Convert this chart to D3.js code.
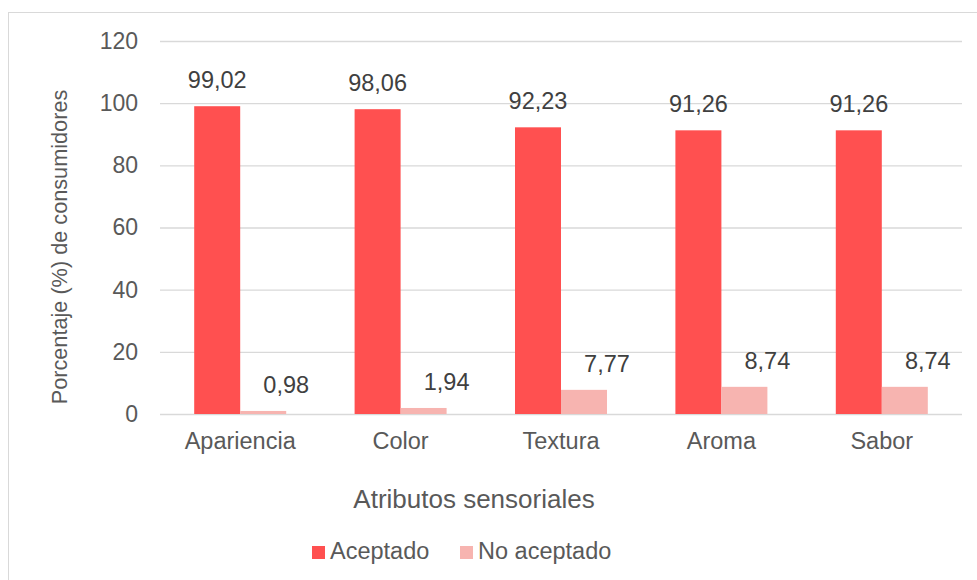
<!DOCTYPE html>
<html>
<head>
<meta charset="utf-8">
<script src="https://cdn.jsdelivr.net/npm/d3@7"></script>
<style>
  html, body { margin: 0; padding: 0; background: #fff; }
  svg { display: block; font-family: "Liberation Sans", Arial, sans-serif; }
</style>
</head>
<body>
<svg id="chart" width="977" height="580"></svg>
<script>
// Sensory attribute acceptance (%)
const categories = ["Apariencia", "Color", "Textura", "Aroma", "Sabor"];
const seriesNames = ["Aceptado", "No aceptado"];
const aceptado = [99.02, 98.06, 92.23, 91.26, 91.26];
const noAceptado = [0.98, 1.94, 7.77, 8.74, 8.74];
const yTicks = [0, 20, 40, 60, 80, 100, 120];
const colors = ["#FF5050", "#F7B4B0"];

const rows = categories.map((c, i) => ({ cat: c, values: [aceptado[i], noAceptado[i]] }));

const svg = d3.select("#chart");
const plot = { left: 160, right: 962, top: 41, bottom: 414 };

// chart frame
svg.append("rect")
  .attr("x", 8.5).attr("y", 12.5)
  .attr("width", 1000).attr("height", 600)
  .attr("fill", "none").attr("stroke", "#D9D9D9").attr("stroke-width", 1);

const y = d3.scaleLinear().domain([0, 120]).range([plot.bottom, plot.top]);
const x0 = d3.scaleBand().domain(categories).range([plot.left, plot.right])
  .paddingInner(0.4264).paddingOuter(0.2132);
const x1 = d3.scaleBand().domain(seriesNames).range([0, x0.bandwidth()]);

// gridlines + y tick labels
const yAxis = d3.axisLeft(y).tickValues(yTicks).tickSize(-(plot.right - plot.left)).tickPadding(22);
const gy = svg.append("g").attr("transform", `translate(${plot.left},0)`).call(yAxis);
gy.select(".domain").remove();
gy.selectAll(".tick line").attr("stroke", "#D9D9D9").attr("stroke-width", 1.3);
gy.selectAll(".tick text").attr("fill", "#595959").attr("font-size", 23)
  .attr("font-family", "Liberation Sans, Arial, sans-serif");

// bars
const groups = svg.append("g").selectAll("g").data(rows).join("g")
  .attr("transform", d => `translate(${x0(d.cat)},0)`);

groups.selectAll("rect").data(d => d.values.map((v, j) => ({ s: seriesNames[j], v, j })))
  .join("rect")
  .attr("x", d => x1(d.s))
  .attr("y", d => y(d.v))
  .attr("width", x1.bandwidth())
  .attr("height", d => y(0) - y(d.v))
  .attr("fill", d => colors[d.j]);

// value labels
const fmt = v => v.toFixed(2).replace(".", ",");
groups.selectAll("text.val").data(d => d.values.map((v, j) => ({ s: seriesNames[j], v, j })))
  .join("text").attr("class", "val")
  .attr("x", d => x1(d.s) + x1.bandwidth() / 2 + (d.j === 1 ? 23 : 0))
  .attr("y", d => y(d.v) - 18)
  .attr("text-anchor", "middle")
  .attr("font-size", 23.5)
  .attr("fill", "#404040")
  .text(d => fmt(d.v));

// category labels under the zero line
const xAxis = d3.axisBottom(x0).tickSize(0).tickPadding(18);
const gx = svg.append("g").attr("transform", `translate(0,${plot.bottom})`).call(xAxis);
gx.select(".domain").remove();
gx.selectAll(".tick text").attr("fill", "#595959").attr("font-size", 23.5)
  .attr("font-family", "Liberation Sans, Arial, sans-serif");

// axis titles
svg.append("text")
  .attr("x", 474).attr("y", 508)
  .attr("text-anchor", "middle").attr("font-size", 26).attr("fill", "#595959")
  .text("Atributos sensoriales");

svg.append("text")
  .attr("transform", "translate(67,247) rotate(-90)")
  .attr("text-anchor", "middle").attr("font-size", 21.7).attr("fill", "#595959")
  .text("Porcentaje (%) de consumidores");

// legend
const legendItems = [{ name: seriesNames[0], x: 312 }, { name: seriesNames[1], x: 460 }];
const lg = svg.append("g").selectAll("g").data(legendItems).join("g")
  .attr("transform", d => `translate(${d.x},546)`);
lg.append("rect").attr("width", 13).attr("height", 13).attr("fill", (d, i) => colors[i]);
lg.append("text").attr("x", 18).attr("y", 13).attr("font-size", 23.5).attr("fill", "#595959")
  .text(d => d.name);
</script>
</body>
</html>
